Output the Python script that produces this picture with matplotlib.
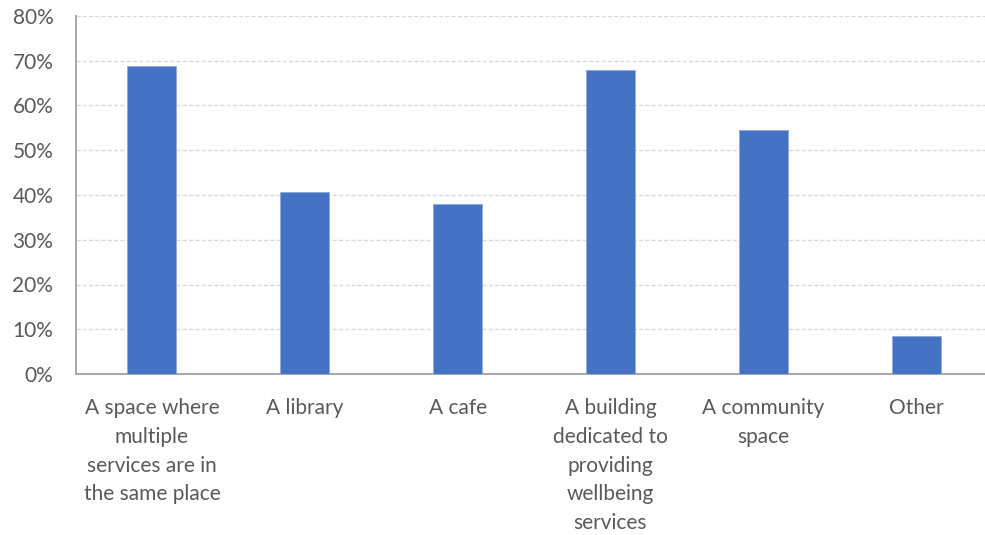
import matplotlib.pyplot as plt
from matplotlib.ticker import PercentFormatter

OUTPUT_PATH = "out.png"

categories = [
    "A space where\nmultiple\nservices are in\nthe same place",
    "A library",
    "A cafe",
    "A building\ndedicated to\nproviding\nwellbeing\nservices",
    "A community\nspace",
    "Other",
]
shares = [68.9, 40.6, 38.1, 67.9, 54.5, 8.6]
y_ticks = [0, 10, 20, 30, 40, 50, 60, 70, 80]

BAR_COLOR = "#4472C4"
TEXT_COLOR = "#595959"


def main():
    plt.rcParams["font.family"] = ["Lato", "DejaVu Sans"]

    fig = plt.figure(figsize=(9.85, 5.35), dpi=100)
    ax = fig.add_axes([75.5 / 985, 161 / 535, 909.5 / 985, 358 / 535])

    x = range(len(categories))
    ax.bar(x, shares, width=0.32, color=BAR_COLOR, edgecolor="#8eaadb",
           linewidth=0.6, zorder=3)

    ax.set_xlim(-0.5, 5.45)
    ax.set_ylim(0, 80)
    ax.set_yticks(y_ticks)
    ax.yaxis.set_major_formatter(PercentFormatter(decimals=0))
    ax.set_xticks(list(x))
    ax.set_xticklabels(categories, linespacing=1.56, va="top")

    ax.grid(axis="y", color="#d9d9d9", linestyle=(0, (3, 1.5)), linewidth=1.0, zorder=0)
    for side in ("top", "right"):
        ax.spines[side].set_visible(False)
    for side in ("left", "bottom"):
        ax.spines[side].set_color("#a6a6a6")
        ax.spines[side].set_linewidth(1.4)

    ax.tick_params(axis="both", length=0, labelsize=15, labelcolor=TEXT_COLOR)
    ax.tick_params(axis="y", pad=16)
    ax.tick_params(axis="x", pad=17)

    fig.savefig(OUTPUT_PATH, dpi=100)


if __name__ == "__main__":
    main()
